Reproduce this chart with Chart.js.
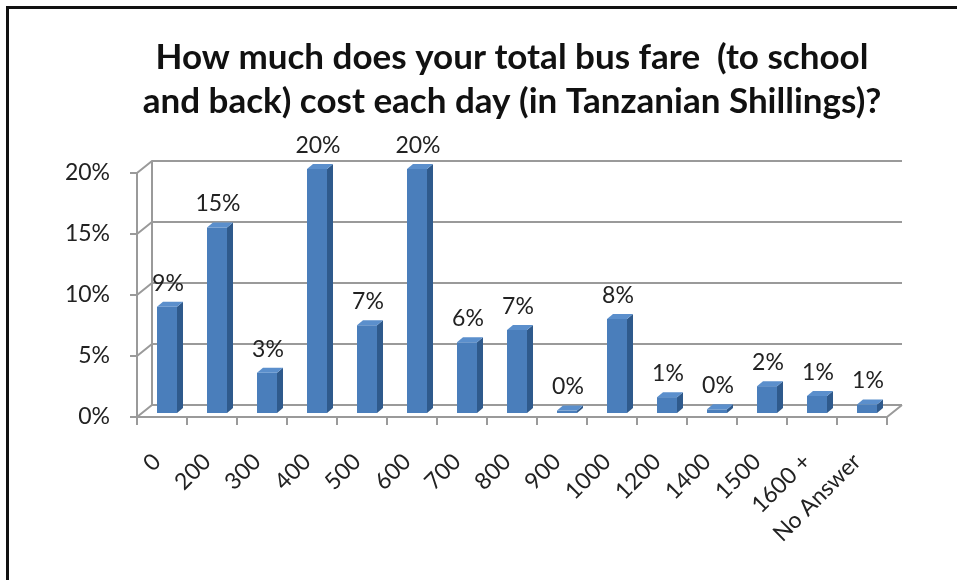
<!DOCTYPE html>
<html>
<head>
<meta charset="utf-8">
<script src="https://cdn.jsdelivr.net/npm/chart.js@4/dist/chart.umd.min.js"></script>
<style>
  body { margin: 0; background: #fff; }
  #wrap { position: relative; width: 957px; height: 580px; }
  #frame { position: absolute; left: 6px; top: 6px; right: 0; bottom: 0;
           border-left: 3px solid #111; border-top: 3px solid #111; }
  canvas { position: absolute; left: 0; top: 0; }
</style>
</head>
<body>
<div id="wrap">
  <div id="frame"></div>
  <canvas id="myChart" width="957" height="580"></canvas>
</div>
<script>
// data
const categories = ['0', '200', '300', '400', '500', '600', '700', '800', '900', '1000', '1200', '1400', '1500', '1600 +', 'No Answer'];
const shares = [8.7, 15.2, 3.3, 20.0, 7.2, 20.0, 5.8, 6.8, 0.2, 7.7, 1.3, 0.3, 2.2, 1.4, 0.7];
const yTicks = [0, 5, 10, 15, 20];
const titleLines = ['How much does your total bus fare  (to school', 'and back) cost each day (in Tanzanian Shillings)?'];

const ctx = document.getElementById('myChart');
const FONT = 'Lato, "Open Sans", sans-serif';

// 3d offsets: back wall and bar plane relative to the front plane
const BACK = { x: 15, y: -12 };
const BAR = { x: 5, y: -4 };
const DEPTH = { x: 6, y: -5 };

const box3d = {
  id: 'box3d',
  beforeDatasetsDraw(chart) {
    const c = chart.ctx;
    const xs = chart.scales.x, ys = chart.scales.y;
    const left = xs.left, right = xs.right;
    c.save();
    c.strokeStyle = '#9a9a9a';
    c.lineWidth = 2;
    // back wall grid + left wall diagonals
    yTicks.forEach(v => {
      const y = ys.getPixelForValue(v);
      c.beginPath();
      c.moveTo(left, y);
      c.lineTo(left + BACK.x, y + BACK.y);
      c.lineTo(right + BACK.x, y + BACK.y);
      c.stroke();
      // y tick mark
      c.beginPath();
      c.moveTo(left - 7, y);
      c.lineTo(left, y);
      c.stroke();
    });
    const top = ys.getPixelForValue(20), bot = ys.getPixelForValue(0);
    c.beginPath();
    c.moveTo(left, top); c.lineTo(left, bot);
    c.moveTo(left + BACK.x, top + BACK.y); c.lineTo(left + BACK.x, bot + BACK.y);
    // floor front edge and right edge
    c.moveTo(left, bot); c.lineTo(right, bot);
    c.lineTo(right + BACK.x, bot + BACK.y);
    c.stroke();
    // x tick marks on category borders
    for (let i = 0; i <= categories.length; i++) {
      const x = left + (right - left) * i / categories.length;
      c.beginPath();
      c.moveTo(x, bot); c.lineTo(x, bot + 8);
      c.stroke();
    }
    c.restore();
    // shift bars into the middle of the depth
    c.save();
    c.translate(BAR.x, BAR.y);
  },
  afterDatasetsDraw(chart) {
    const c = chart.ctx;
    const meta = chart.getDatasetMeta(0);
    meta.data.forEach((bar, i) => {
      const p = bar.getProps(['x', 'y', 'base', 'width'], true);
      const l = p.x - p.width / 2, r = p.x + p.width / 2;
      // side face
      c.fillStyle = '#2f5a8c';
      c.beginPath();
      c.moveTo(r, p.y); c.lineTo(r + DEPTH.x, p.y + DEPTH.y);
      c.lineTo(r + DEPTH.x, p.base + DEPTH.y); c.lineTo(r, p.base);
      c.closePath(); c.fill();
      // top face
      c.fillStyle = '#5b8fcc';
      c.beginPath();
      c.moveTo(l, p.y); c.lineTo(l + DEPTH.x, p.y + DEPTH.y);
      c.lineTo(r + DEPTH.x, p.y + DEPTH.y); c.lineTo(r, p.y);
      c.closePath(); c.fill();
      // value label
      c.fillStyle = '#222';
      c.font = '23px ' + FONT;
      c.textAlign = 'center';
      c.textBaseline = 'bottom';
      c.fillText(Math.round(shares[i]) + '%', p.x + 1, p.y - 12);
    });
    c.restore();
  }
};

new Chart(ctx, {
  type: 'bar',
  data: {
    labels: categories,
    datasets: [{
      data: shares,
      backgroundColor: '#4a7ebb',
      borderWidth: 0,
      barPercentage: 0.4,
      categoryPercentage: 1,
      clip: false
    }]
  },
  options: {
    responsive: false,
    animation: false,
    layout: { padding: { left: 0, right: 70, top: 0, bottom: 0 } },
    plugins: {
      legend: { display: false },
      tooltip: { enabled: false },
      title: {
        display: true,
        text: titleLines,
        fullSize: false,
        color: '#111',
        font: { family: FONT, size: 35, weight: 'bold', lineHeight: '44px' },
        padding: { top: 36, bottom: 49 }
      }
    },
    scales: {
      x: {
        grid: { display: false, drawTicks: false },
        border: { display: false },
        ticks: {
          color: '#222', font: { family: FONT, size: 23 },
          minRotation: 45, maxRotation: 45, padding: 31, labelOffset: -5
        },
        afterFit(scale) { scale.height = 163; }
      },
      y: {
        min: 0, max: 20,
        grid: { display: false, drawTicks: false },
        border: { display: false },
        ticks: {
          stepSize: 5, padding: 27, color: '#222',
          font: { family: FONT, size: 23 },
          callback: v => v + '%'
        },
        afterFit(scale) { scale.width = 137; }
      }
    }
  },
  plugins: [box3d]
});
</script>
</body>
</html>
